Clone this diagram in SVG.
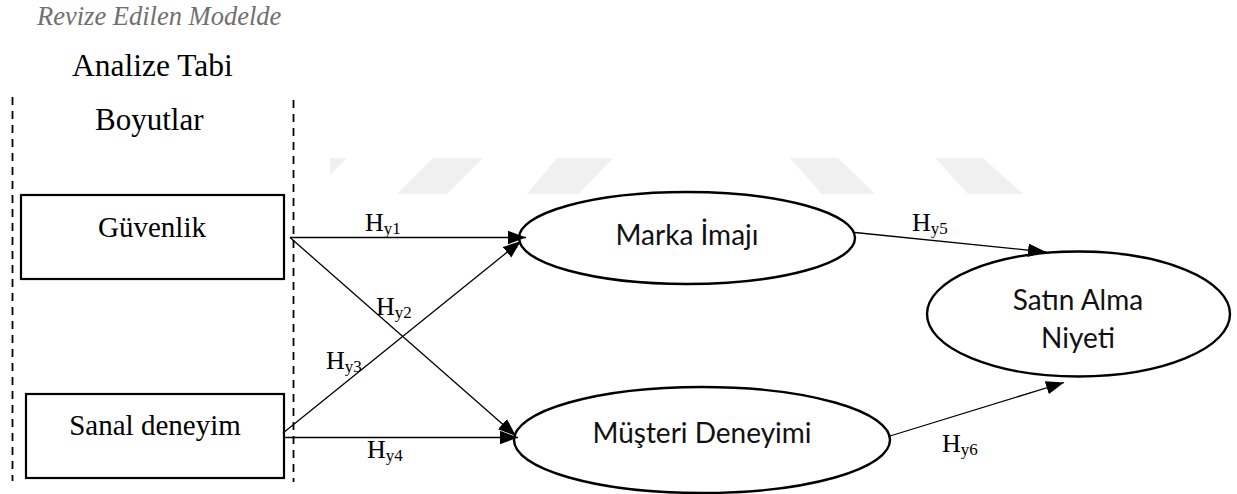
<svg xmlns="http://www.w3.org/2000/svg" width="1237" height="494" viewBox="0 0 1237 494">
<style>
.serif{font-family:"Liberation Serif","Times New Roman",serif;fill:#000}
.sans{font-family:Lato,"Noto Sans",sans-serif;fill:#111;font-size:28px;text-anchor:middle}
.box{fill:#fff;stroke:#000;stroke-width:2.2}
.ell{fill:#fff;stroke:#000;stroke-width:2.4}
.dash{stroke:#000;stroke-width:1.8;stroke-dasharray:8 6;fill:none}
.edge{stroke:#000;stroke-width:1.3;fill:none;marker-end:url(#arr)}
.wm{fill:#f0f0f0}
.lab{font-size:26px}
.sub{font-size:17px}
</style>
<defs>
<marker id="arr" markerUnits="userSpaceOnUse" markerWidth="18" markerHeight="14" refX="16" refY="6" orient="auto" viewBox="0 0 16 12">
<path d="M0,0 L16,6 L0,12 Z" fill="#000"/>
</marker>
<clipPath id="wmclip"><rect x="330" y="150" width="800" height="60"/></clipPath>
</defs>
<rect width="1237" height="494" fill="#fff"/>
<g id="watermark" clip-path="url(#wmclip)">
<polygon class="wm" points="297,158 347,158 311,194 261,194"/>
<polygon class="wm" points="433,158 483,158 447,194 397,194"/>
<polygon class="wm" points="557,158 613,158 578,194 527,194"/>
<polygon class="wm" points="790,158 838,158 875,194 822,194"/>
<polygon class="wm" points="935,158 983,158 1023,194 968,194"/>
</g>
<g id="headings">
<text x="37" y="25" class="serif" style="font-style:italic;fill:#707070;font-size:26.5px">Revize Edilen Modelde</text>
<text x="72" y="76" class="serif" style="font-size:31.5px">Analize Tabi</text>
<text x="95" y="130" class="serif" style="font-size:31px">Boyutlar</text>
</g>
<g id="dashed-lines">
<line class="dash" x1="12.5" y1="97" x2="12.5" y2="481"/>
<line class="dash" x1="293.5" y1="100" x2="293.5" y2="482"/>
</g>
<g id="node-guvenlik">
<rect class="box" x="21" y="195" width="263" height="84"/>
<text x="152" y="237" class="serif" style="font-size:29px" text-anchor="middle">Güvenlik</text>
</g>
<g id="node-sanal">
<rect class="box" x="26" y="394" width="258" height="84"/>
<text x="155" y="435" class="serif" style="font-size:29px" text-anchor="middle">Sanal deneyim</text>
</g>
<g id="node-marka">
<ellipse class="ell" cx="687" cy="238" rx="168" ry="46"/>
<text x="687" y="245" class="sans">Marka İmajı</text>
</g>
<g id="node-musteri">
<ellipse class="ell" cx="702" cy="440" rx="188" ry="53"/>
<text x="702" y="443" class="sans">Müşteri Deneyimi</text>
</g>
<g id="node-satin">
<ellipse class="ell" cx="1078.5" cy="314" rx="151.5" ry="62.5"/>
<text x="1078" y="310" class="sans">Satın Alma</text>
<text x="1078" y="348" class="sans">Niyeti</text>
</g>
<g id="connectors">
<line class="edge" x1="290" y1="237.5" x2="526" y2="237.5"/>
<line class="edge" x1="290" y1="237.5" x2="516" y2="436"/>
<line class="edge" x1="283" y1="433" x2="521" y2="241"/>
<line class="edge" x1="284" y1="437.5" x2="518" y2="437.5"/>
<line class="edge" x1="855" y1="232.5" x2="1046" y2="252"/>
<line class="edge" x1="890" y1="436" x2="1064" y2="382.5"/>
</g>
<g id="edge-labels" class="serif">
<text x="365" y="231" class="lab">H<tspan class="sub" dy="3">y1</tspan></text>
<text x="376" y="315" class="lab">H<tspan class="sub" dy="3">y2</tspan></text>
<text x="326" y="369" class="lab">H<tspan class="sub" dy="3">y3</tspan></text>
<text x="367" y="458" class="lab">H<tspan class="sub" dy="3">y4</tspan></text>
<text x="912" y="231" class="lab">H<tspan class="sub" dy="3">y5</tspan></text>
<text x="942" y="452" class="lab">H<tspan class="sub" dy="3">y6</tspan></text>
</g>
</svg>
